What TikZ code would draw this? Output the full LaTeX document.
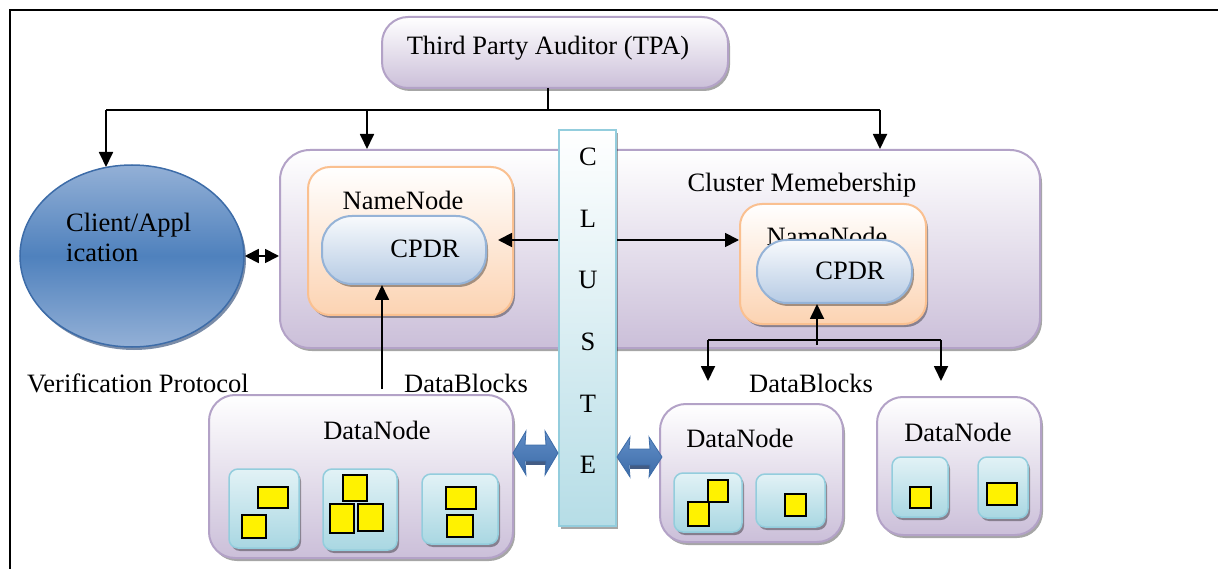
\documentclass[tikz,border=0pt]{standalone}
\usepackage{fontspec}
\setmainfont{Liberation Serif}
\usetikzlibrary{arrows.meta,shadows,shapes.geometric}
\definecolor{purpleedge}{HTML}{B3A2C7}
\definecolor{purplefill}{HTML}{CBBFD9}
\definecolor{orangeedge}{HTML}{FAC090}
\definecolor{orangefill}{HTML}{FCD3B2}
\definecolor{cpdredge}{HTML}{95B3D7}
\definecolor{cpdrfill}{HTML}{B6CBE4}
\definecolor{cyanedge}{HTML}{93CDDD}
\definecolor{cyanfill}{HTML}{A9D7E2}
\definecolor{cyanlight}{HTML}{E2F2F6}
\definecolor{blueA}{HTML}{4F81BD}
\definecolor{blueL}{HTML}{93B0D6}
\definecolor{blueE}{HTML}{3D6CA8}
\definecolor{blueM}{HTML}{5F8CC6}
\definecolor{blueD}{HTML}{22406E}
\tikzset{
  x=1pt, y=-1pt,
  shad/.style={drop shadow={shadow xshift=2pt,shadow yshift=-3pt,fill=black,opacity=0.35}},
  pbox/.style={draw=purpleedge, line width=2pt, rounded corners=26pt, top color=white, bottom color=purplefill, shad, inner sep=0pt},
  obox/.style={draw=orangeedge, line width=2pt, rounded corners=22pt, top color=white, bottom color=orangefill, shad, inner sep=0pt},
  pill/.style={draw=cpdredge, line width=2pt, rounded corners=30pt, top color=white!90!cpdrfill, bottom color=cpdrfill, shad, inner sep=0pt},
  barbox/.style={draw=cyanedge, line width=2pt, top color=white, bottom color=cyanfill!85, shad, inner sep=0pt},
  cblk/.style={draw=cyanedge, line width=1.5pt, rounded corners=9pt, top color=cyanlight, bottom color=cyanfill, shad},
  ysq/.style={draw=black, line width=1.4pt, fill=yellow},
  lbl/.style={font=\fontsize{26.5}{30}\selectfont, inner sep=0pt},
  conn/.style={line width=1.8pt, -{Triangle[length=15pt,width=14pt]}},
  dconn/.style={line width=1.8pt, {Triangle[length=14pt,width=14pt]}-{Triangle[length=14pt,width=14pt]}},
  plain/.style={line width=1.8pt},
  blockarrow/.style={draw=blueE, line width=0.8pt, top color=blueM, bottom color=blueE},
  blockshadow/.style={fill=blueD, opacity=0.85}
}
\begin{document}
\begin{tikzpicture}
\useasboundingbox (0,0) rectangle (1218,569);
% frame
\draw[line width=2.5pt] (1218,10) -- (10,10) -- (10,569);

% boxes
\node[pbox, minimum width=346pt, minimum height=71pt] (tpa) at (555,52.5) {};
\node[lbl] (tpatext) at (548,48) {Third Party Auditor (TPA)};

\node[pbox, rounded corners=30pt, minimum width=760pt, minimum height=198pt] (big) at (660,249) {};
\node[lbl] (bigtext) at (802,185) {Cluster Memebership};

\node[obox, minimum width=205pt, minimum height=148pt] (nnL) at (410.5,241) {};
\node[lbl] (nnLtext) at (403,200) {NameNode};
\node[pill, minimum width=164pt, minimum height=68pt] (cpdrL) at (404,250) {};
\node[lbl] (cpdrLtext) at (425,249) {CPDR};

\node[obox, minimum width=186pt, minimum height=120pt] (nnR) at (833,264) {};
\node[lbl] (nnRtext) at (827,236) {NameNode};
\node[pill, minimum width=155pt, minimum height=63pt] (cpdrR) at (834.5,271.5) {};
\node[lbl] (cpdrRtext) at (850,271) {CPDR};

\node[ellipse, draw=blueE, line width=1.5pt, top color=blueL, bottom color=blueL, middle color=blueA, drop shadow={shadow xshift=2pt,shadow yshift=-3pt,fill=blueD,opacity=0.6}, minimum width=224pt, minimum height=182pt, inner sep=0pt] (client) at (132,256) {};
\node[lbl, align=left, anchor=west] (clienttext) at (66,237) {Client/Appl\\ication};

% connectors from TPA
\coordinate (tpaout) at (548,88);
\coordinate (junc) at (548,110);
\coordinate (jl) at (106,110);
\coordinate (jm) at (367,110);
\coordinate (jr) at (880,110);
\coordinate (clientin) at (106,167);
\draw[plain] (tpaout) -- (junc);
\draw[plain] (jl) -- (jr);
\draw[conn] (jl) -- (clientin);
\draw[conn] (jm) -- (jm |- big.north);
\draw[conn] (jr) -- (jr |- big.north);

% client <-> cluster
\draw[dconn] (client.east) -- (client.east -| big.west);

% CPDR <-> NameNode
\coordinate (cl) at (498,240);
\draw[dconn] (cl) -- (cl -| nnR.west);

% DataNode -> CPDR left
\coordinate (dn1top) at (382,389);
\draw[conn] (dn1top) -- (dn1top |- cpdrL.south);

% right branch
\coordinate (brc) at (817,345);
\coordinate (brl) at (708,340);
\coordinate (brr) at (941,340);
\coordinate (brlend) at (708,381);
\coordinate (brrend) at (941,381);
\draw[conn] (brc) -- (brc |- cpdrR.south);
\draw[plain] (brl) -- (brr);
\draw[conn] (brl) -- (brlend);
\draw[conn] (brr) -- (brrend);

% cluster bar
\node[barbox, minimum width=57pt, minimum height=396pt] (bar) at (587.5,328) {};
\node[lbl, align=center, font=\fontsize{26.5}{61.6}\selectfont] (bartext) at (588,311) {C\\L\\U\\S\\T\\E};

% labels
\node[lbl] (verif) at (138,383) {Verification Protocol};
\node[lbl] (dbL) at (466,383) {DataBlocks};
\node[lbl] (dbR) at (811,383) {DataBlocks};

% DataNodes
\node[pbox, minimum width=304pt, minimum height=163pt] (dnL) at (361,476.5) {};
\node[lbl] (dnLtext) at (377,430) {DataNode};
\node[pbox, minimum width=183pt, minimum height=138pt] (dnM) at (751.5,473) {};
\node[lbl] (dnMtext) at (740,438) {DataNode};
\node[pbox, minimum width=164pt, minimum height=138pt] (dnR) at (959,466) {};
\node[lbl] (dnRtext) at (958,432) {DataNode};

% blocks in left DataNode
\draw[cblk] (229,469) rectangle (299,548);
\draw[ysq] (258,487) rectangle (288,508);
\draw[ysq] (242,515) rectangle (266,538);
\draw[cblk] (323,469) rectangle (397,550);
\draw[ysq] (343,475) rectangle (367,501);
\draw[ysq] (330,504) rectangle (354,533);
\draw[ysq] (358,504) rectangle (383,531);
\draw[cblk] (422,474) rectangle (498,544);
\draw[ysq] (446,487) rectangle (476,509);
\draw[ysq] (447,515) rectangle (473,537);
% blocks in middle DataNode
\draw[cblk] (674,473) rectangle (742,532);
\draw[ysq] (708,480) rectangle (728,502);
\draw[ysq] (688,502) rectangle (709,526);
\draw[cblk] (756,474) rectangle (825,527);
\draw[ysq] (785,494) rectangle (806,516);
% blocks in right DataNode
\draw[cblk] (892,457) rectangle (948,517);
\draw[ysq] (910,487) rectangle (931,508);
\draw[cblk] (978,457) rectangle (1028,518);
\draw[ysq] (987,483) rectangle (1017,505);

% block arrows
\fill[blockshadow] (526,455) rectangle (547,465);
\draw[blockarrow] (513,453) -- (526,431) -- (525,445) -- (546,445) -- (545,431) -- (558,453) -- (545,475) -- (546,461) -- (525,461) -- (526,475) -- cycle;
\fill[blockshadow] (630,459) rectangle (650,469);
\draw[blockarrow] (617,457) -- (630,437) -- (629,449) -- (650,449) -- (649,437) -- (662,457) -- (649,477) -- (650,465) -- (629,465) -- (630,477) -- cycle;
\end{tikzpicture}
\end{document}
